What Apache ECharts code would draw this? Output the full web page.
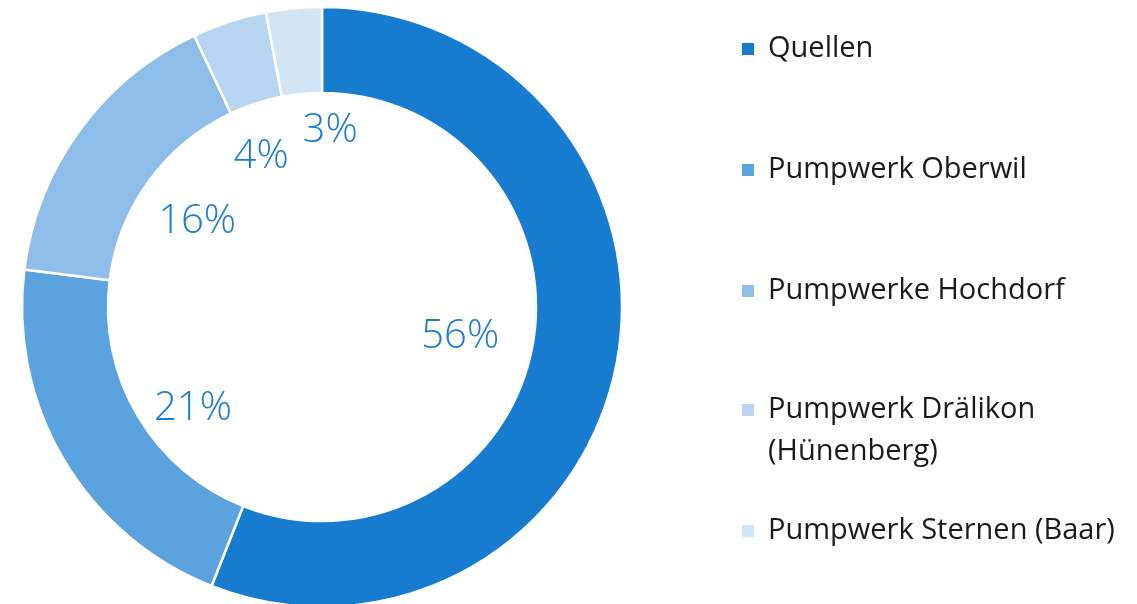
<!DOCTYPE html>
<html>
<head>
<meta charset="utf-8">
<script src="https://cdn.jsdelivr.net/npm/echarts@6/dist/echarts.min.js"></script>
<style>
  html, body { margin: 0; padding: 0; background: #fff; }
  #chart { width: 1137px; height: 604px; }
</style>
</head>
<body>
<div id="chart"></div>
<script>
// Anteile Wasserbezug (%)
const names = [
  "Quellen",
  "Pumpwerk Oberwil",
  "Pumpwerke Hochdorf",
  "Pumpwerk Drälikon\n(Hünenberg)",
  "Pumpwerk Sternen (Baar)"
];
const values = [56, 21, 16, 4, 3];
const colors = ["#177cd0", "#5ba3de", "#8dbde8", "#b7d5f0", "#d2e5f5"];
// kleine Verschiebung der Beschriftungen wie im Original
const labelShift = [
  [-17, 0],
  [7, 21],
  [3, 7],
  [-12, 0],
  [23, -19]
];

const chart = echarts.init(document.getElementById("chart"));
const pieData = names.map((n, i) => ({
  name: n,
  value: values[i],
  itemStyle: { color: colors[i] }
}));

function legendBox(top, data, formatter) {
  return {
    orient: "vertical",
    left: 740,
    top: top,
    padding: 0,
    itemWidth: 14,
    itemHeight: 14,
    itemGap: 79,
    icon: "rect",
    selectedMode: false,
    data: data,
    formatter: formatter,
    textStyle: {
      fontFamily: "Open Sans",
      fontSize: 29,
      color: "#1a1a1a",
      lineHeight: 42,
      padding: [0, 0, 0, 8]
    }
  };
}

const option = {
  animation: false,
  legend: [
    legendBox(28, names.slice(0, 3)),
    // Symbol auf Höhe der ersten Zeile: leere Zeile davor
    legendBox(347, [names[3]], name => "\u00a0\n" + name),
    legendBox(510, [names[4]])
  ],
  series: [
    {
      name: "Anteil",
      type: "pie",
      center: [322, 307],
      radius: [214, 300],
      startAngle: 90,
      clockwise: true,
      silent: true,
      itemStyle: { borderColor: "#fff", borderWidth: 2.5 },
      label: { show: false },
      labelLine: { show: false },
      data: pieData
    },
    {
      // nur Beschriftungen im Innenkreis
      name: "Beschriftung",
      type: "pie",
      center: [322, 307],
      radius: [100, 210],
      startAngle: 90,
      clockwise: true,
      silent: true,
      avoidLabelOverlap: false,
      itemStyle: { color: "rgba(0,0,0,0)" },
      labelLine: { show: false },
      label: {
        show: true,
        position: "inside",
        formatter: "{c}%",
        fontFamily: "Open Sans",
        fontWeight: 300,
        fontSize: 40,
        color: "#1a7cd0"
      },
      data: names.map((n, i) => ({
        name: n,
        value: values[i],
        label: { offset: labelShift[i] }
      }))
    }
  ]
};
chart.setOption(option);
</script>
</body>
</html>
